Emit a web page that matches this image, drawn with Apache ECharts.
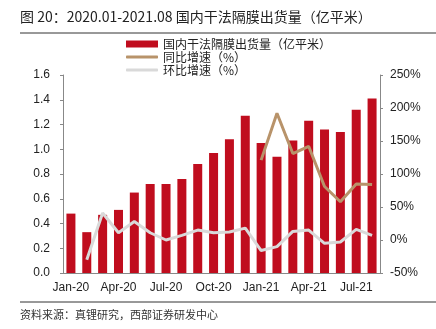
<!DOCTYPE html>
<html>
<head>
<meta charset="utf-8">
<script src="https://cdn.jsdelivr.net/npm/echarts@6/dist/echarts.min.js"></script>
<style>
  html, body { margin: 0; padding: 0; background: #fff; }
  #chart { width: 436px; height: 329px; }
</style>
</head>
<body>
<div id="chart"></div>
<script>
// Monthly shipments of dry-process separator in China, 2020.01 - 2021.08
const months = ['Jan-20','Feb-20','Mar-20','Apr-20','May-20','Jun-20','Jul-20','Aug-20','Sep-20','Oct-20',
                'Nov-20','Dec-20','Jan-21','Feb-21','Mar-21','Apr-21','May-21','Jun-21','Jul-21','Aug-21'];
// Shipments, 亿平米
const shipments = [0.48, 0.33, 0.47, 0.51, 0.65, 0.72, 0.72, 0.76, 0.88, 0.97,
                   1.08, 1.27, 1.05, 0.94, 1.07, 1.23, 1.16, 1.14, 1.32, 1.41];
// Year-on-year growth, %
const yoy = [null, null, null, null, null, null, null, null, null, null,
             null, null, 121, 192, 131, 142, 81, 58, 85, 84];
// Month-on-month growth, %
const mom = [null, -30, 41, 11, 28, 11, 0, 7, 15, 11,
             12, 18, -16, -10, 13, 15, -5, -3, 16, 7];

const NAME_BAR = '国内干法隔膜出货量（亿平米）';
const NAME_YOY = '同比增速（%）';
const NAME_MOM = '环比增速（%）';
const RED = '#C00D1E', TAN = '#B8936A', GREY = '#D9D9D9';

const FONT = '"Liberation Sans", "Noto Sans CJK SC", sans-serif';
const CJK = '"Noto Sans CJK SC", "Liberation Sans", sans-serif';

// one legend per row so the bar swatch can be taller than the line swatches
function legendRow(name, top, h) {
  return {
    orient: 'vertical', left: 121, top: top,
    itemWidth: 32, itemHeight: h,
    textStyle: { fontFamily: CJK, fontSize: 12, color: '#222' },
    data: [{ name: name, icon: h > 4 ? 'rect' : 'roundRect' }]
  };
}

const chart = echarts.init(document.getElementById('chart'));
chart.setOption({
  animation: false,
  textStyle: { fontFamily: FONT },
  grid: { left: 63, right: 56, top: 75, bottom: 56 },
  legend: [
    legendRow(NAME_BAR, 33, 7),
    legendRow(NAME_YOY, 46, 3),
    legendRow(NAME_MOM, 59, 3)
  ],
  xAxis: {
    type: 'category',
    data: months,
    axisLine: { lineStyle: { color: '#888' } },
    axisTick: { show: false },
    axisLabel: { interval: 2, color: '#222', fontSize: 12, margin: 9 }
  },
  yAxis: [
    {
      type: 'value', min: 0, max: 1.6, interval: 0.2,
      splitLine: { show: false },
      axisLine: { show: true, lineStyle: { color: '#888' } },
      axisTick: { show: true, length: 3, lineStyle: { color: '#888' } },
      axisLabel: { color: '#222', fontSize: 12, margin: 13, formatter: v => v.toFixed(1) }
    },
    {
      type: 'value', min: -50, max: 250, interval: 50,
      splitLine: { show: false },
      axisLine: { show: true, lineStyle: { color: '#888' } },
      axisTick: { show: true, length: 3, lineStyle: { color: '#888' } },
      axisLabel: { color: '#222', fontSize: 12, margin: 10, formatter: '{value}%' }
    }
  ],
  series: [
    {
      name: NAME_BAR,
      type: 'bar',
      data: shipments,
      barWidth: 9,
      itemStyle: { color: RED }
    },
    {
      name: NAME_YOY,
      type: 'line',
      yAxisIndex: 1,
      data: yoy,
      showSymbol: false,
      lineStyle: { color: TAN, width: 3 },
      itemStyle: { color: TAN }
    },
    {
      name: NAME_MOM,
      type: 'line',
      yAxisIndex: 1,
      data: mom,
      showSymbol: false,
      lineStyle: { color: GREY, width: 3 },
      itemStyle: { color: GREY }
    }
  ],
  graphic: [
    {
      type: 'text', left: 20, top: 10,
      style: { text: '图 20：2020.01-2021.08 国内干法隔膜出货量（亿平米）', font: '14px ' + CJK, fill: '#222' }
    },
    { type: 'line', shape: { x1: 20, y1: 33, x2: 436, y2: 33 }, style: { stroke: '#333', lineWidth: 1 } },
    { type: 'line', shape: { x1: 20, y1: 302, x2: 436, y2: 302 }, style: { stroke: '#333', lineWidth: 1 } },
    {
      type: 'text', left: 20, top: 309,
      style: { text: '资料来源：真锂研究，西部证券研发中心', font: '11px ' + CJK, fill: '#333' }
    }
  ]
});
</script>
</body>
</html>
